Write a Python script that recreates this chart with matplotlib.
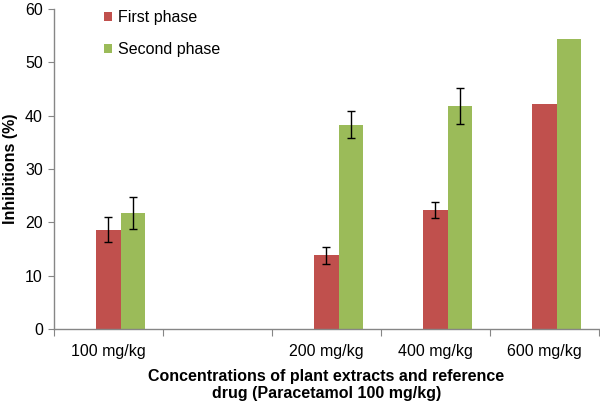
import numpy as np
import matplotlib
matplotlib.use("Agg")
import matplotlib.pyplot as plt

plt.rcParams['font.family'] = ['Liberation Sans', 'DejaVu Sans']

# data
categories = ['100 mg/kg', '', '200 mg/kg', '400 mg/kg', '600 mg/kg']
first_phase = [18.6, np.nan, 13.8, 22.3, 42.2]
first_err = [2.4, np.nan, 1.6, 1.5, np.nan]
second_phase = [21.8, np.nan, 38.3, 41.8, 54.4]
second_err = [3.0, np.nan, 2.6, 3.4, np.nan]

red = '#C0504D'
green = '#9BBB59'
grey = '#868686'
fs = 11.5

fig = plt.figure(figsize=(6, 4.04), dpi=100)
ax = fig.add_axes([0.09, 0.186, 0.908, 0.792])

x = np.arange(len(categories))
w = 0.225
ax.bar(x, first_phase, w, color=red, label='First phase')
ax.bar(x + w, second_phase, w, color=green, label='Second phase')
ax.errorbar(x, first_phase, yerr=first_err, fmt='none',
            ecolor='black', elinewidth=1, capsize=3, capthick=1)
ax.errorbar(x + w, second_phase, yerr=second_err, fmt='none',
            ecolor='black', elinewidth=1, capsize=3, capthick=1)

ax.set_xlim(-0.5, len(categories) - 0.5)
ax.set_ylim(0, 60)
ax.set_yticks(range(0, 61, 10))

# category labels at centres, tick marks at boundaries
ax.set_xticks(x, categories, minor=True)
ax.set_xticks(np.arange(-0.5, len(categories) - 0.4, 1), [''] * (len(categories) + 1))
ax.tick_params(axis='x', which='minor', length=0, pad=11, labelsize=fs)
ax.tick_params(axis='x', which='major', length=5, color=grey, direction='out')
ax.tick_params(axis='y', length=4, color=grey, labelsize=fs, pad=4)

for s in ['top', 'right']:
    ax.spines[s].set_visible(False)
for s in ['left', 'bottom']:
    ax.spines[s].set_color(grey)
    ax.spines[s].set_linewidth(1)

ax.set_ylabel('Inhibitions (%)', fontweight='bold', fontsize=fs, labelpad=5)
ax.set_xlabel('Concentrations of plant extracts and reference\ndrug (Paracetamol 100 mg/kg)',
              fontweight='bold', fontsize=fs, labelpad=7, linespacing=1.15)

ax.legend(loc='upper left', bbox_to_anchor=(104 / 600, 1 - 10 / 404),
          bbox_transform=fig.transFigure, frameon=False, fontsize=fs,
          handlelength=0.5, handleheight=0.5, handletextpad=0.4,
          labelspacing=1.05, borderpad=0, borderaxespad=0)

fig.savefig('out.png', dpi=100)
